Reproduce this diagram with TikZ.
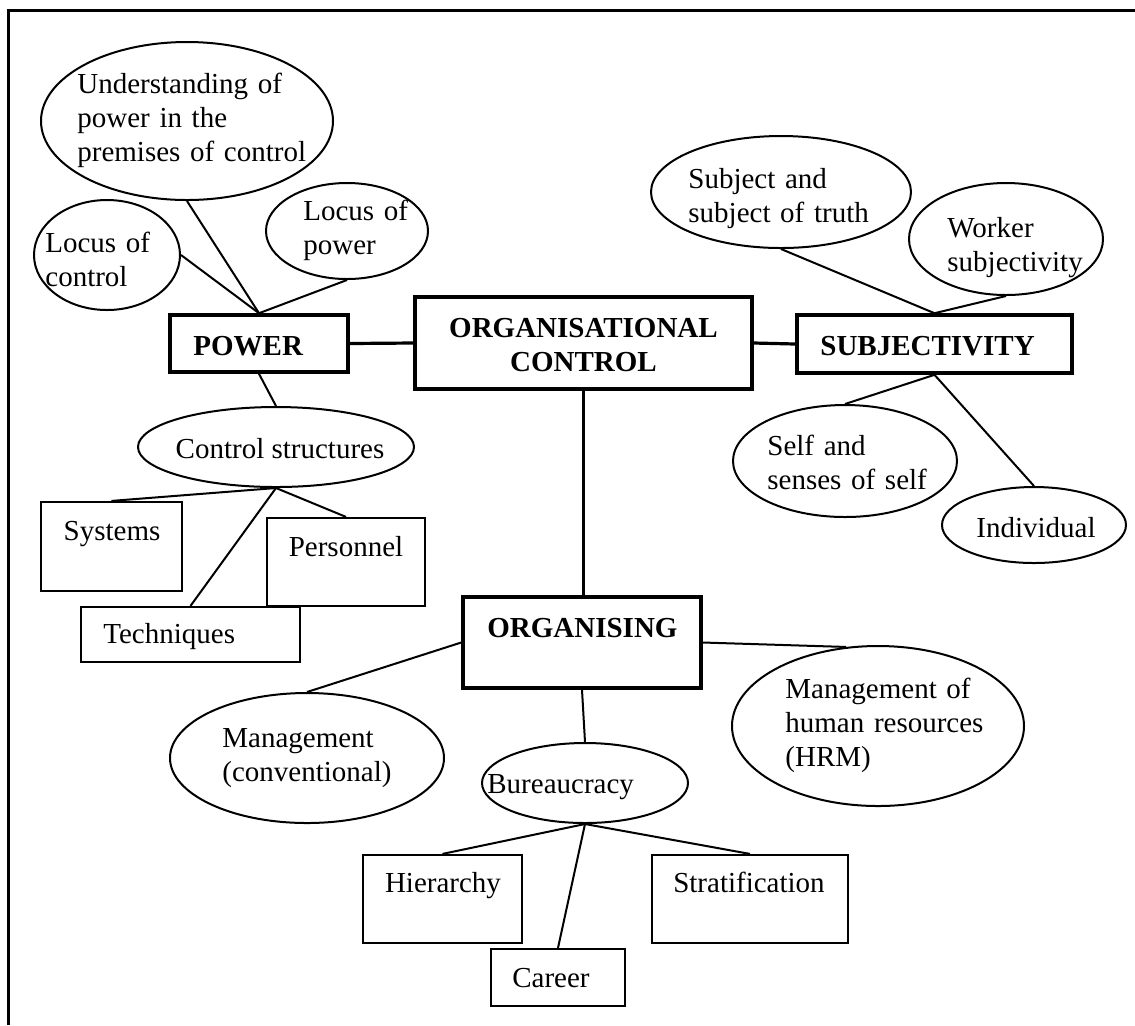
\documentclass[tikz,border=0pt]{standalone}
\usepackage{fontspec}
\setmainfont{Liberation Serif}
\usetikzlibrary{shapes.geometric}
\newcommand\lbfont{\fontsize{14.5}{17}\selectfont}
\tikzset{
  lbl/.style={inner sep=0pt, font=\lbfont},
  lblb/.style={inner sep=0pt, font=\lbfont\bfseries},
  bubble/.style={draw, ellipse, line width=1pt, inner sep=0pt},
  leaf/.style={draw, rectangle, line width=1.1pt, inner sep=0pt},
  hub/.style={draw, rectangle, line width=1.8pt, inner sep=0pt},
  link/.style={line width=1pt},
  trunk/.style={line width=1.6pt},
}
\begin{document}
\begin{tikzpicture}[x=0.5pt,y=-0.5pt]
\useasboundingbox (0,0) rectangle (1135,1025);
% outer frame (left and top edges)
\draw[line width=1.5pt] (8,1025) -- (8,10) -- (1135,10);

% main boxes
\node[hub, minimum width=168.5pt, minimum height=46pt] (oc) at (583.5,343) {};
\node[lblb, align=center, text width=200pt, anchor=base] (octxt) at (583.5,337) {ORGANISATIONAL\\CONTROL};
\node[hub, minimum width=89pt, minimum height=28.5pt] (power) at (259,343.5) {};
\node[lblb, anchor=base west] (powertxt) at (193,355) {POWER};
\node[hub, minimum width=137.5pt, minimum height=29pt] (subj) at (934.5,344) {};
\node[lblb, anchor=base west] (subjtxt) at (820,355) {SUBJECTIVITY};
\node[hub, minimum width=119pt, minimum height=45.5pt] (org) at (582,642.5) {};
\node[lblb, anchor=base west] (orgtxt) at (487,637) {ORGANISING};

% power branch
\node[bubble, minimum width=146pt, minimum height=79pt] (uc) at (187,121) {};
\node[lbl, align=left, text width=130pt, anchor=base west] (uctxt) at (77,93) {Understanding of\\power in the\\premises of control};
\node[bubble, minimum width=73pt, minimum height=55pt] (lc) at (107,255) {};
\node[lbl, align=left, text width=70pt, anchor=base west] (lctxt) at (45,252) {Locus of\\control};
\node[bubble, minimum width=81pt, minimum height=48pt] (lp) at (347,231) {};
\node[lbl, align=left, text width=70pt, anchor=base west] (lptxt) at (303,220) {Locus of\\power};
\node[bubble, minimum width=138pt, minimum height=40pt] (cs) at (276,447) {};
\node[lbl, anchor=base] (cstxt) at (280,458) {Control structures};
\node[leaf, minimum width=70.5pt, minimum height=44.5pt] (systems) at (111.5,546.5) {};
\node[lbl, anchor=base] (systemstxt) at (112,540) {Systems};
\node[leaf, minimum width=79pt, minimum height=44pt] (personnel) at (346,562) {};
\node[lbl, anchor=base] (personneltxt) at (346,556) {Personnel};
\node[leaf, minimum width=109.5pt, minimum height=27.5pt] (techniques) at (190.5,634.5) {};
\node[lbl, anchor=base west] (techniquestxt) at (103,643) {Techniques};

% subjectivity branch
\node[bubble, minimum width=130pt, minimum height=56pt] (st) at (781,192) {};
\node[lbl, align=left, text width=110pt, anchor=base west] (sttxt) at (688,188) {Subject and\\subject of truth};
\node[bubble, minimum width=97pt, minimum height=56pt] (ws) at (1006,239) {};
\node[lbl, align=left, text width=90pt, anchor=base west] (wstxt) at (947,237) {Worker\\subjectivity};
\node[bubble, minimum width=112pt, minimum height=56pt] (ss) at (845,461) {};
\node[lbl, align=left, text width=100pt, anchor=base west] (sstxt) at (767,455) {Self and\\senses of self};
\node[bubble, minimum width=92pt, minimum height=38pt] (ind) at (1034,525) {};
\node[lbl, anchor=base] (indtxt) at (1036,537) {Individual};

% organising branch
\node[bubble, minimum width=137pt, minimum height=65pt] (mc) at (307,758) {};
\node[lbl, align=left, text width=100pt, anchor=base west] (mctxt) at (222,747) {Management\\(conventional)};
\node[bubble, minimum width=103pt, minimum height=40pt] (bu) at (585,783) {};
\node[lbl, anchor=base west] (butxt) at (487,793) {Bureaucracy};
\node[bubble, minimum width=146pt, minimum height=80pt] (hrm) at (878,726) {};
\node[lbl, align=left, text width=120pt, anchor=base west] (hrmtxt) at (785,698) {Management of\\human resources\\(HRM)};
\node[leaf, minimum width=79.5pt, minimum height=44pt] (hierarchy) at (442.5,899) {};
\node[lbl, anchor=base] (hierarchytxt) at (443,892) {Hierarchy};
\node[leaf, minimum width=98pt, minimum height=44pt] (strat) at (750,899) {};
\node[lbl, anchor=base] (strattxt) at (749,892) {Stratification};
\node[leaf, minimum width=67pt, minimum height=28.5pt] (career) at (558,977.5) {};
\node[lbl, anchor=base] (careertxt) at (551,987) {Career};

% connectors
\draw[trunk] (power.east) -- (oc.west);
\draw[trunk] (oc.east) -- (subj.west);
\draw[trunk] (oc.south) -- (oc.south |- org.north);

\draw[link] (lc.east) -- (power.north);
\draw[link] (uc.south) -- (power.north);
\draw[link] (lp.south) -- (power.north);
\draw[link] (power.south) -- (cs.north);
\draw[link] (cs.south) -- (systems.north);
\draw[link] (cs.south) -- (techniques.north);
\draw[link] (cs.south) -- (personnel.north);

\draw[link] (st.south) -- (subj.north);
\draw[link] (ws.south) -- (subj.north);
\draw[link] (subj.south) -- (ss.north);
\draw[link] (subj.south) -- (ind.north);

\draw[link] (org.west) -- (mc.north);
\draw[link] (org.east) -- (hrm.112);
\draw[link] (org.south) -- (bu.north);
\draw[link] (bu.south) -- (hierarchy.north);
\draw[link] (bu.south) -- (strat.north);
\draw[link] (bu.south) -- (career.north);
\end{tikzpicture}
\end{document}
